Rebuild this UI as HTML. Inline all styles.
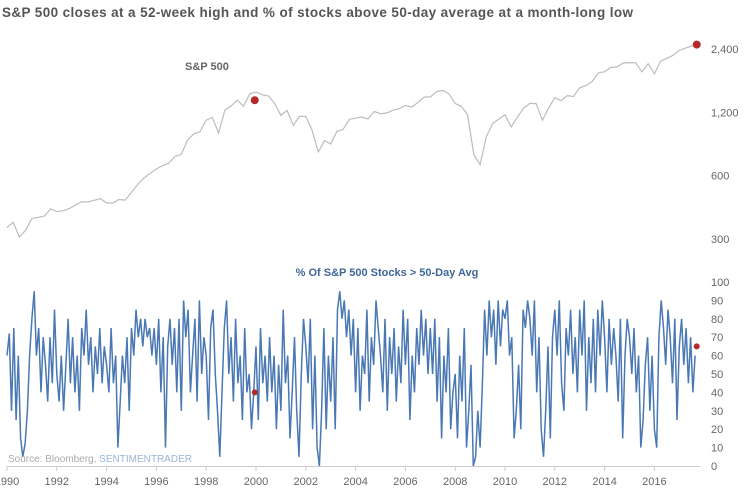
<!DOCTYPE html>
<html><head><meta charset="utf-8"><style>
body{margin:0;background:#fff;width:745px;height:493px;overflow:hidden;font-family:"Liberation Sans",sans-serif}
svg{display:block}
</style></head><body>
<svg id="c" width="745" height="493">
<text x="2" y="17" font-size="13.5" font-weight="bold" fill="#555" textLength="631" lengthAdjust="spacing">S&amp;P 500 closes at a 52-week high and % of stocks above 50-day average at a month-long low</text>
<text x="185" y="70" font-size="11" font-weight="bold" fill="#666">S&amp;P 500</text>
<text x="387" y="276" font-size="11" font-weight="bold" fill="#3d6798" text-anchor="middle">% Of S&amp;P 500 Stocks &gt; 50-Day Avg</text>
<text x="8" y="462" font-size="10" fill="#aaa">Source: Bloomberg, <tspan fill="#9bb3d6">SENTIMENTRADER</tspan></text>
<g id="gtop"></g><g id="gbot"></g><g id="gaxes"></g>
</svg>
<script>
const spStart = 1990, spStep = 0.25;
const spValues = [340,360,306,330,375,380,385,417,405,408,418,435,450,450,458,466,445,444,462,459,500,544,584,615,645,670,687,740,757,885,947,970,1100,1133,957,1229,1286,1372,1282,1469,1498,1454,1436,1320,1160,1224,1040,1148,1147,989,776,880,848,975,995,1112,1126,1140,1114,1212,1180,1191,1228,1248,1294,1270,1335,1418,1420,1503,1526,1468,1322,1280,1166,752,676,919,1057,1115,1169,1022,1141,1257,1325,1320,1099,1257,1408,1362,1440,1426,1569,1606,1681,1848,1872,1960,1972,2059,2068,2063,1867,2044,1829,2099,2168,2239,2363,2423,2480,2519];
const spTicks = [300,600,1200,2400];
const spTickLabels = ["300","600","1,200","2,400"];
const brStart = 1990, brPerYear = 11;
const brValues = [60,72,30,75,25,60,15,5,12,30,60, 80,95,60,75,40,70,55,35,70,45,85, 50,35,60,30,55,80,45,70,40,60,30, 75,60,85,55,70,40,65,50,75,45,65, 55,40,75,45,60,10,35,60,45,70,30, 75,60,85,70,80,65,80,70,75,60,75, 55,80,40,70,10,65,80,55,75,40,80, 30,90,70,85,40,60,80,35,90,50,70, 60,25,75,85,50,30,5,40,75,90,50, 70,35,80,45,60,25,75,40,50,20,40, 65,25,75,45,60,35,70,40,60,20,55, 30,85,45,60,15,40,70,30,5,50,80, 65,45,80,20,60,10,0,30,75,20,60, 35,70,20,85,95,80,90,70,85,60,80, 40,75,30,60,50,85,35,70,55,90,75, 60,40,80,30,70,50,75,35,65,45,85, 55,80,25,60,40,75,55,85,60,80,50, 75,50,80,35,70,15,60,40,75,20,40, 50,15,60,35,75,10,30,55,0,5,30, 10,45,85,60,90,70,85,55,90,65,85, 80,90,60,70,15,30,55,20,85,75,90, 80,60,90,40,70,20,5,30,65,15,70, 85,60,90,45,30,75,60,85,50,70,40, 85,60,90,30,70,45,80,40,85,60,90, 70,40,80,55,75,60,35,80,15,60,80, 70,50,75,40,60,10,25,55,70,30,60, 20,10,70,90,75,55,85,70,45,80,25, 65,80,55,75,45,70,40,60];
const brTicks = [0,10,20,30,40,50,60,70,80,90,100];
const yearTicks = [1990,1992,1994,1996,1998,2000,2002,2004,2006,2008,2010,2012,2014,2016];
const hiSignals = [{t:1999.95,sp:1370,br:40},{t:2017.7,sp:2519,br:65}];

const X = t => 7 + (t - 1990) * 24.9;
const YT = v => 49 + Math.log2(2400 / v) * 63.3;
const YB = v => 466 - v * 1.84;
const NS = "http://www.w3.org/2000/svg";
function mk(tag, parent, attrs){const e=document.createElementNS(NS,tag);for(const k in attrs)e.setAttribute(k,attrs[k]);parent.appendChild(e);return e;}
const gTop=document.getElementById('gtop'), gBot=document.getElementById('gbot'), gAxes=document.getElementById('gaxes');

let d = spValues.map((v,i)=>(i?'L':'M')+X(spStart+i*spStep).toFixed(1)+','+YT(v).toFixed(1)).join('');
const sp = mk('path', gTop, {d:d, fill:'none', stroke:'#bdbdbd', 'stroke-width':1.2});



d = brValues.map((v,i)=>(i?'L':'M')+X(brStart+i/brPerYear).toFixed(1)+','+YB(v).toFixed(1)).join('');
const br = mk('path', gBot, {d:d, fill:'none', stroke:'#4a78b3', 'stroke-width':1.5});



hiSignals.forEach(s=>{
  const a = mk('circle', gTop, {cx:X(s.t), cy:YT(s.sp), r:4, fill:'#b22a2a'});
  
  
  const b = mk('circle', gBot, {cx:X(s.t), cy:YB(s.br), r:3, fill:'#b22a2a'});
  
  
});

spTicks.forEach((v,i)=>{
  const t = mk('text', gAxes, {x:711, y:YT(v)+4, 'font-size':11, fill:'#666'});
  t.textContent = spTickLabels[i];
  
  
});
brTicks.forEach(v=>{
  const t = mk('text', gAxes, {x:711, y:YB(v)+4, 'font-size':11, fill:'#666'});
  t.textContent = v;
  
  
});
const ax = mk('line', gAxes, {x1:7, x2:700, y1:466.5, y2:466.5, stroke:'#ccc'});


yearTicks.forEach(y=>{
  const tk = mk('line', gAxes, {x1:X(y), x2:X(y), y1:466, y2:471, stroke:'#ccc'});
  
  
  const t = mk('text', gAxes, {x:X(y), y:485, 'font-size':11, fill:'#666', 'text-anchor':'middle'});
  t.textContent = y;
  
  
});
</script>
</body></html>
